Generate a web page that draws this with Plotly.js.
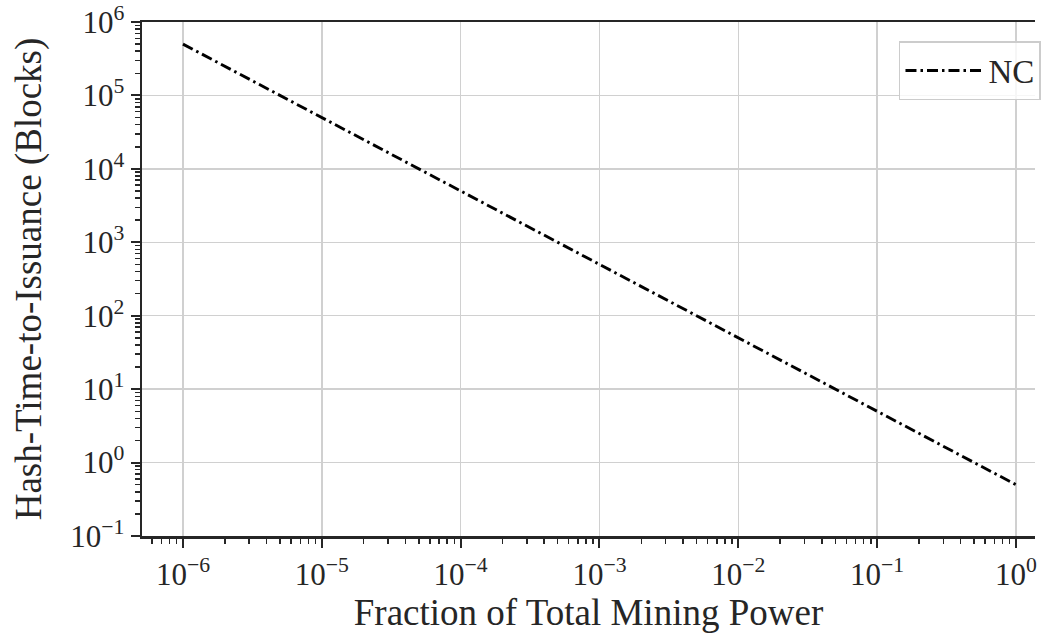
<!DOCTYPE html>
<html>
<head>
<meta charset="utf-8">
<script src="https://cdn.plot.ly/plotly-3.0.1.min.js"></script>
<style>html,body{margin:0;padding:0;background:#fff}#chart{width:1051px;height:635px}</style>
</head>
<body>
<div id="chart"></div>
<script>
const miningFraction = [1e-6, 1e-5, 1e-4, 1e-3, 1e-2, 1e-1, 1];
const hashTimeNC = [5e5, 5e4, 5e3, 5e2, 5e1, 5, 0.5];
const seriesName = 'NC';
const xTickVals = [1e-6, 1e-5, 1e-4, 1e-3, 1e-2, 1e-1, 1];
const xTickText = ['10<sup>−6</sup>', '10<sup>−5</sup>', '10<sup>−4</sup>', '10<sup>−3</sup>', '10<sup>−2</sup>', '10<sup>−1</sup>', '10<sup>0</sup>'];
const yTickVals = [1e-1, 1, 1e1, 1e2, 1e3, 1e4, 1e5, 1e6];
const yTickText = ['10<sup>−1</sup>', '10<sup>0</sup>', '10<sup>1</sup>', '10<sup>2</sup>', '10<sup>3</sup>', '10<sup>4</sup>', '10<sup>5</sup>', '10<sup>6</sup>'];

const font = 'Liberation Serif, DejaVu Serif, serif';
const trace = {
  x: miningFraction, y: hashTimeNC, name: seriesName,
  type: 'scatter', mode: 'lines',
  line: {color: '#000', width: 2.9, dash: '11px,4px,2.5px,4px'}
};
const layout = {
  width: 1051, height: 635,
  margin: {l: 142, r: 16, t: 22, b: 99, autoexpand: false},
  paper_bgcolor: '#fff', plot_bgcolor: '#fff',
  font: {family: font, color: '#262626', size: 31},
  showlegend: true,
  legend: {
    x: 1.0067, xanchor: 'right', y: 0.963, yanchor: 'top',
    bgcolor: 'rgba(255,255,255,0.8)', bordercolor: '#cccccc', borderwidth: 1.5,
    itemwidth: 78, entrywidth: 170,
    font: {family: font, size: 33, color: '#262626'}
  },
  xaxis: {
    type: 'log', range: [-6.295, 0.137],
    tickvals: xTickVals, ticktext: xTickText,
    ticks: 'outside', ticklen: 9, tickwidth: 2, tickcolor: '#262626',
    showline: true, linecolor: '#262626', linewidth: 2.5, mirror: true,
    showgrid: true, gridcolor: '#d0d0d0', gridwidth: 1.5,
    zeroline: false,
    tickfont: {family: font, size: 31, color: '#262626'},
    minor: {ticks: 'outside', ticklen: 5, tickwidth: 1.5, tickcolor: '#262626', showgrid: false, dtick: 'D1'},
    title: {text: 'Fraction of Total Mining Power', font: {family: font, size: 37, color: '#262626'}, standoff: 4}
  },
  yaxis: {
    type: 'log', range: [-1, 6],
    tickvals: yTickVals, ticktext: yTickText,
    ticks: 'outside', ticklen: 9, tickwidth: 2, tickcolor: '#262626',
    showline: true, linecolor: '#262626', linewidth: 2.5, mirror: false,
    showgrid: true, gridcolor: '#d0d0d0', gridwidth: 1.5,
    zeroline: false,
    tickfont: {family: font, size: 31, color: '#262626'},
    minor: {ticks: 'outside', ticklen: 5, tickwidth: 1.5, tickcolor: '#262626', showgrid: false, dtick: 'D1'},
    title: {text: 'Hash-Time-to-Issuance (Blocks)', font: {family: font, size: 37, color: '#262626'}, standoff: 18}
  }
};
Plotly.newPlot('chart', [trace], layout, {displayModeBar: false, staticPlot: true});
</script>
</body>
</html>
